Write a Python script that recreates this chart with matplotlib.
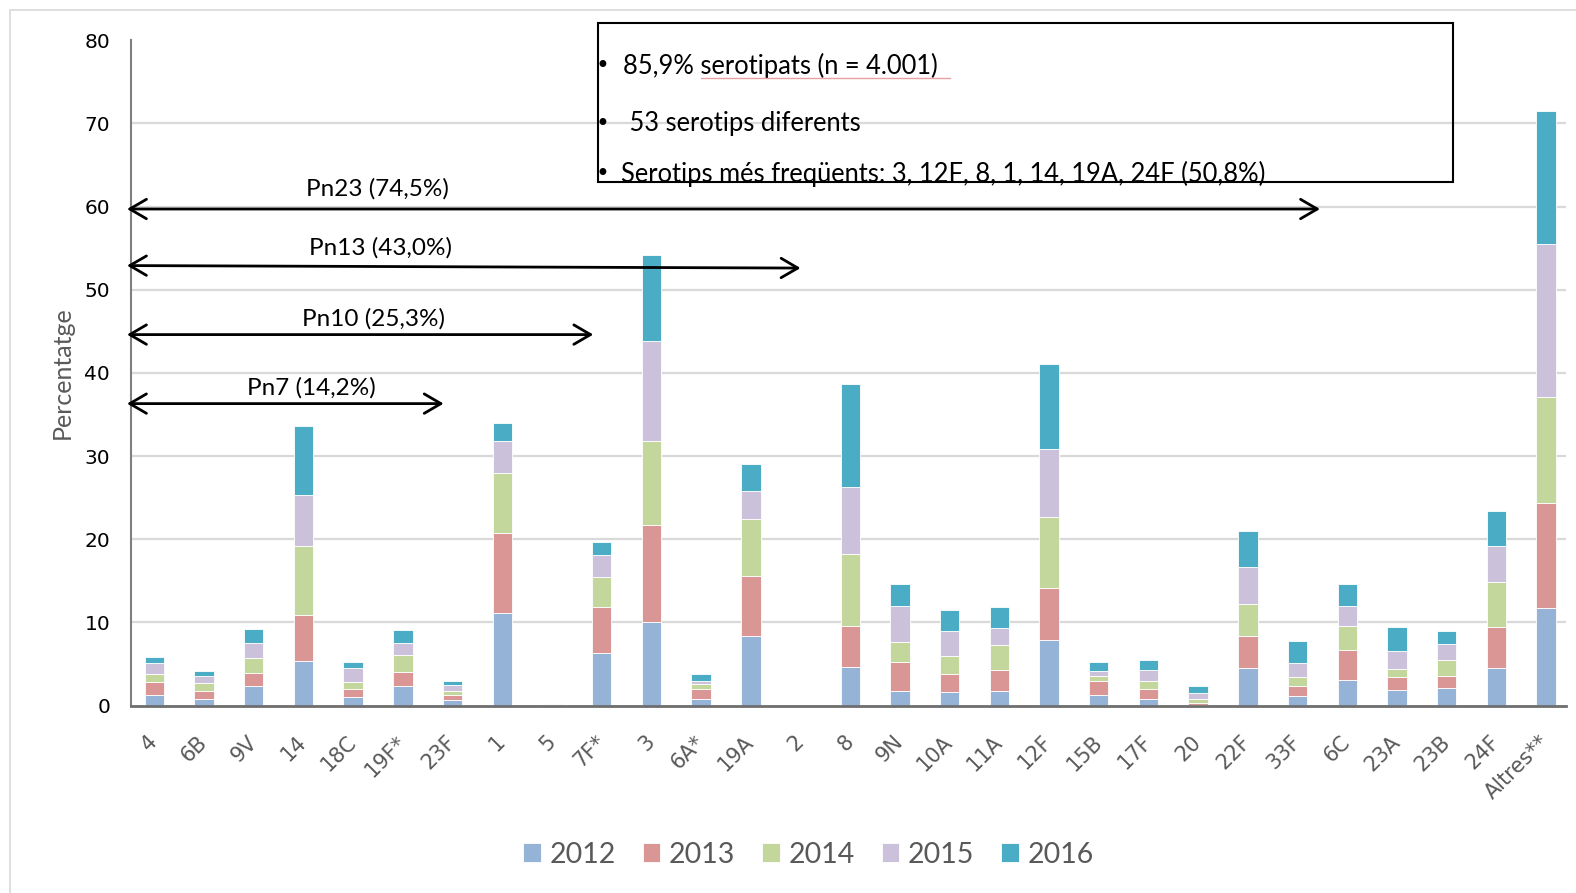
import matplotlib.pyplot as plt
from matplotlib.patches import Rectangle
import numpy as np

# --- data (percentatge per serotip i any) ---
serotips = ['4', '6B', '9V', '14', '18C', '19F*', '23F', '1', '5', '7F*', '3', '6A*',
            '19A', '2', '8', '9N', '10A', '11A', '12F', '15B', '17F', '20', '22F',
            '33F', '6C', '23A', '23B', '24F', 'Altres**']
anys = ['2012', '2013', '2014', '2015', '2016']
v2012 = [1.3, 0.8, 2.3, 5.3, 1.0, 2.3, 0.7, 11.1, 0.05, 6.3, 10.1, 0.8, 8.3, 0,
         4.6, 1.7, 1.6, 1.7, 7.9, 1.3, 0.8, 0.05, 4.5, 1.2, 3.1, 1.9, 2.1, 4.5, 11.75]
v2013 = [1.5, 0.9, 1.6, 5.6, 1.0, 1.7, 0.6, 9.65, 0.05, 5.6, 11.6, 1.15, 7.3, 0,
         5.0, 3.5, 2.2, 2.6, 6.2, 1.6, 1.15, 0.2, 3.8, 1.2, 3.55, 1.5, 1.5, 4.9, 12.55]
v2014 = [1.0, 1.0, 1.85, 8.3, 0.8, 2.1, 0.4, 7.2, 0.05, 3.6, 10.1, 0.6, 6.8, 0,
         8.6, 2.4, 2.2, 3.0, 8.6, 0.7, 1.0, 0.55, 3.9, 1.0, 2.95, 1.0, 1.9, 5.4, 12.85]
v2015 = [1.3, 0.8, 1.75, 6.1, 1.7, 1.4, 0.8, 3.9, 0.1, 2.6, 12.0, 0.4, 3.4, 0,
         8.1, 4.4, 2.9, 2.05, 8.2, 0.6, 1.3, 0.65, 4.5, 1.7, 2.4, 2.1, 1.9, 4.4, 18.35]
v2016 = [0.7, 0.7, 1.7, 8.3, 0.7, 1.6, 0.5, 2.1, 0, 1.6, 10.4, 0.85, 3.25, 0,
         12.3, 2.6, 2.6, 2.55, 10.2, 1.0, 1.2, 0.9, 4.3, 2.6, 2.6, 2.9, 1.6, 4.2, 16.0]
colors = ['#95B3D7', '#D99694', '#C3D69B', '#CCC1DA', '#4BACC6']

# vacunes: etiqueta, y inici, y final, x final
vacunes = ['Pn23 (74,5%)', 'Pn13 (43,0%)', 'Pn10 (25,3%)', 'Pn7 (14,2%)']
vac_y0 = [59.7, 52.9, 44.6, 36.3]
vac_y1 = [59.7, 52.6, 44.6, 36.3]
vac_x1 = [23.45, 13.0, 8.83, 5.82]

info = ['85,9% serotipats (n = 4.001)',
        ' 53 serotips diferents',
        'Serotips més freqüents: 3, 12F, 8, 1, 14, 19A, 24F (50,8%)']

NARROW = ['Lato', 'DejaVu Sans']
GRAY = '#595959'

fig = plt.figure(figsize=(15.76, 8.93), dpi=100)
ax = fig.add_axes([131 / 1576, 1 - 705.5 / 893, (1566 - 131) / 1576, (705.5 - 40.2) / 893])

x = np.arange(len(serotips))
bottom = np.zeros(len(serotips))
for vals, lab, c in zip([v2012, v2013, v2014, v2015, v2016], anys, colors):
    ax.bar(x, vals, 0.39, bottom=bottom, color=c, label=lab,
           edgecolor='white', linewidth=0.6, zorder=2)
    bottom += np.array(vals)

ax.set_xlim(-0.47, 28.4)
ax.set_ylim(0, 80)
ax.set_yticks(range(0, 81, 10))
for yv in range(10, 80, 10):
    ax.axhline(yv, color='#D9D9D9', lw=1.6, zorder=0)

ax.set_xticks(x)
ax.set_xticklabels(serotips, rotation=45, ha='right', va='center',
                   rotation_mode='anchor', color=GRAY, fontsize=15)
ax.tick_params(axis='x', length=0, pad=24)
ax.tick_params(axis='y', length=0, pad=15, labelsize=14.5)
for s in ['top', 'right']:
    ax.spines[s].set_visible(False)
ax.spines['left'].set_color('#7F7F7F')
ax.spines['bottom'].set_color('#6E6E6E')
ax.spines['left'].set_linewidth(1.5)
ax.spines['bottom'].set_linewidth(2)

ax.set_ylabel('Percentatge', family=NARROW, fontsize=18, color=GRAY, labelpad=8)

# fletxes de les vacunes
for lab, y0, y1, x1 in zip(vacunes, vac_y0, vac_y1, vac_x1):
    ax.annotate('', xy=(x1, y1), xytext=(-0.55, y0),
                arrowprops=dict(arrowstyle='<->,head_length=0.6,head_width=0.35',
                                mutation_scale=20, lw=2, color='black',
                                shrinkA=0, shrinkB=0),
                annotation_clip=False)
vac_tx = [4.49, 4.55, 4.4, 3.15]
vac_ty = [62.1, 55.0, 46.45, 38.2]
for lab, tx, ty in zip(vacunes, vac_tx, vac_ty):
    ax.text(tx, ty, lab, ha='center', va='center', family=NARROW, fontsize=17.5)

# requadre d'informacio
ax.add_patch(Rectangle((8.93, 62.97), 26.13 - 8.93, 82.05 - 62.97, fill=False,
                       edgecolor='black', lw=1.5, clip_on=False, zorder=5))
info_y = [76.85, 69.97, 63.9]
info_x = [9.42, 9.42, 9.38]
for t, tx, ty in zip(info, info_x, info_y):
    ax.text(9.01, ty, '•', ha='center', va='center', fontsize=17, zorder=6)
    ax.text(tx, ty, t, ha='left', va='center', family=NARROW, fontsize=18.4, zorder=6)
ax.plot([11.0, 16.0], [75.5, 75.5], color='#E8A0A0', lw=1, clip_on=False, zorder=6)

leg = fig.legend(loc='center', bbox_to_anchor=(0.513, 0.043), ncol=5, frameon=False,
                 handlelength=0.62, handleheight=0.62, handletextpad=0.3,
                 columnspacing=0.95, prop={'family': NARROW, 'size': 20.5})
for t in leg.get_texts():
    t.set_color(GRAY)

# marc exterior del grafic
fig.patches.append(Rectangle((10 / 1576, -0.1), 1.2, 1 - 10 / 893 + 0.1,
                             transform=fig.transFigure, fill=False,
                             edgecolor='#D9D9D9', lw=1.2))

plt.savefig('out.png', dpi=100)
